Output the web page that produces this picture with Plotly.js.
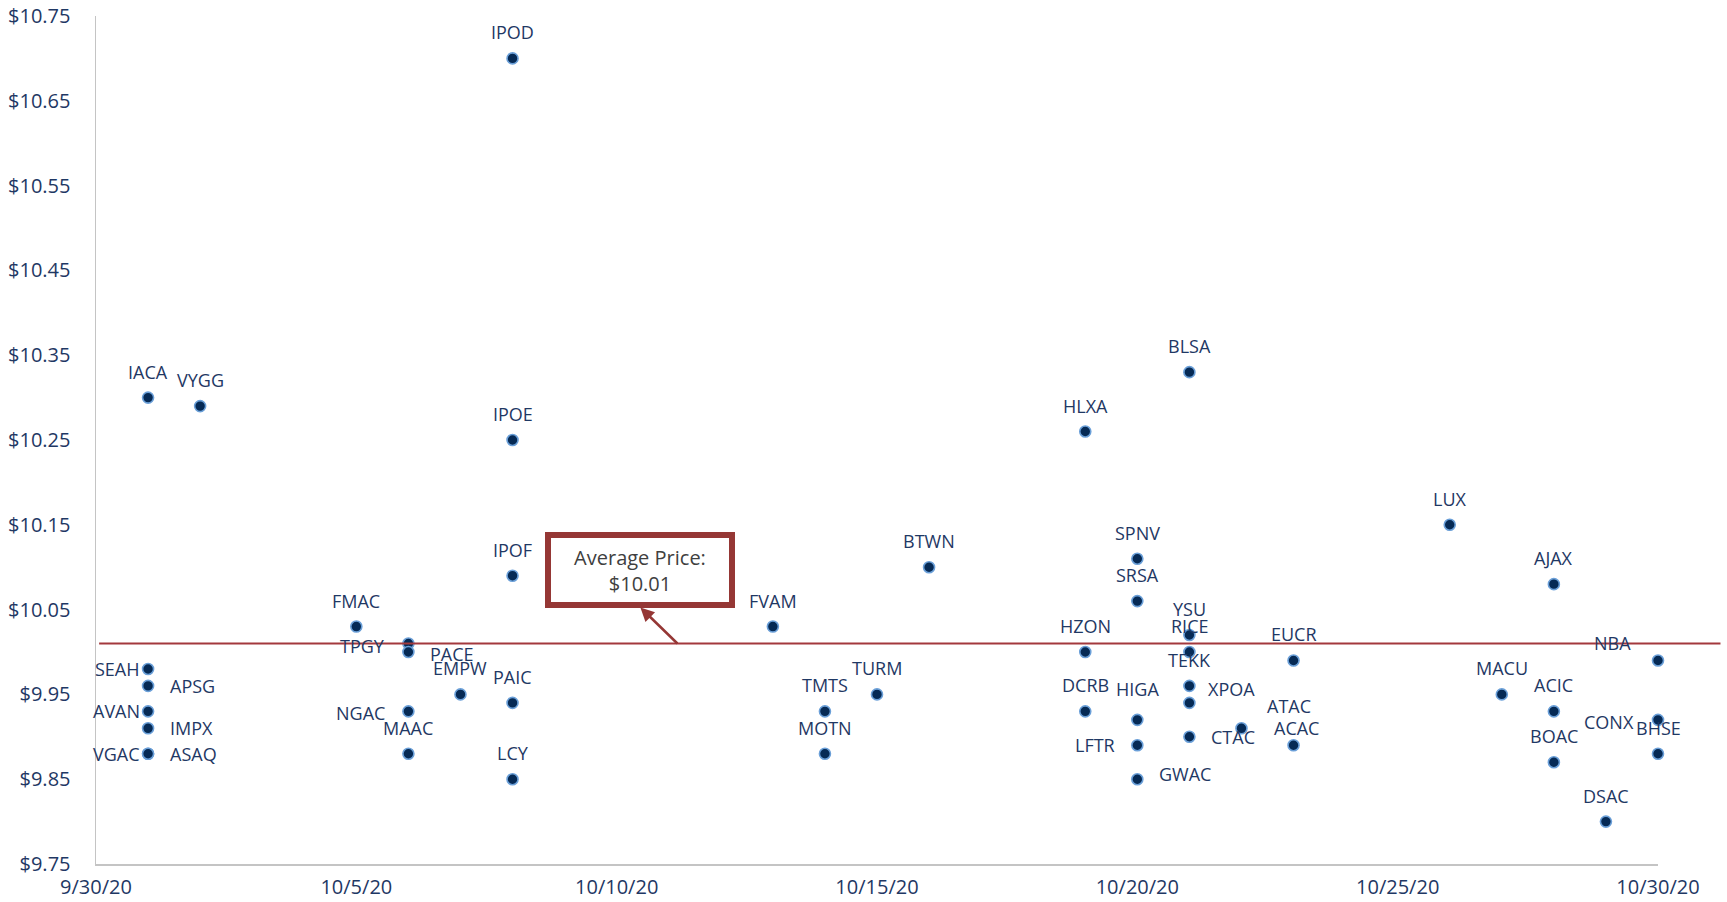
<!DOCTYPE html>
<html>
<head>
<meta charset="utf-8">
<script src="https://cdn.plot.ly/plotly-3.0.1.min.js"></script>
<style>
  html, body { margin: 0; padding: 0; background: #ffffff; }
  #chart { width: 1727px; height: 902px; }
</style>
</head>
<body>
<div id="chart"></div>
<script>
// ---- data ----
const tickers = [
  'IACA','SEAH','APSG','AVAN','IMPX','VGAC','ASAQ',
  'VYGG',
  'FMAC',
  'TPGY','PACE','NGAC','MAAC',
  'EMPW',
  'IPOD','IPOE','IPOF','PAIC','LCY',
  'FVAM',
  'TMTS','MOTN',
  'TURM',
  'BTWN',
  'HLXA','HZON','DCRB',
  'SPNV','SRSA','HIGA','LFTR','GWAC',
  'BLSA','YSU','RICE','TEKK','XPOA','CTAC',
  'ATAC',
  'EUCR','ACAC',
  'LUX',
  'MACU',
  'AJAX','ACIC','BOAC',
  'DSAC',
  'NBA','CONX','BHSE'
];
const dates = [
  '2020-10-01','2020-10-01','2020-10-01','2020-10-01','2020-10-01','2020-10-01','2020-10-01',
  '2020-10-02',
  '2020-10-05',
  '2020-10-06','2020-10-06','2020-10-06','2020-10-06',
  '2020-10-07',
  '2020-10-08','2020-10-08','2020-10-08','2020-10-08','2020-10-08',
  '2020-10-13',
  '2020-10-14','2020-10-14',
  '2020-10-15',
  '2020-10-16',
  '2020-10-19','2020-10-19','2020-10-19',
  '2020-10-20','2020-10-20','2020-10-20','2020-10-20','2020-10-20',
  '2020-10-21','2020-10-21','2020-10-21','2020-10-21','2020-10-21','2020-10-21',
  '2020-10-22',
  '2020-10-23','2020-10-23',
  '2020-10-26',
  '2020-10-27',
  '2020-10-28','2020-10-28','2020-10-28',
  '2020-10-29',
  '2020-10-30','2020-10-30','2020-10-30'
];
const prices = [
  10.30, 9.98, 9.96, 9.93, 9.91, 9.88, 9.88,
  10.29,
  10.03,
  10.01, 10.00, 9.93, 9.88,
  9.95,
  10.70, 10.25, 10.09, 9.94, 9.85,
  10.03,
  9.93, 9.88,
  9.95,
  10.10,
  10.26, 10.00, 9.93,
  10.11, 10.06, 9.92, 9.89, 9.85,
  10.33, 10.02, 10.00, 9.96, 9.94, 9.90,
  9.91,
  9.99, 9.89,
  10.15,
  9.95,
  10.08, 9.93, 9.87,
  9.80,
  9.99, 9.92, 9.88
];
const averagePrice = 10.01;
const averageLabel = 'Average Price:<br>$10.01';
const xRange = ['2020-09-30', '2020-10-30'];
const tickDates = ['2020-09-30','2020-10-05','2020-10-10','2020-10-15','2020-10-20','2020-10-25','2020-10-30'];
const tickText  = ['9/30/20','10/5/20','10/10/20','10/15/20','10/20/20','10/25/20','10/30/20'];
const yRange = [9.75, 10.75];

// ---- label placement (style only) ----
// T = above, L = left, R = right, C = centred with custom nudge
const labelSide = [
  'T','L','R','L','R','L','R',
  'T',
  'T',
  'L','R','L','T',
  'T',
  'T','T','T','T','T',
  'T',
  'T','T',
  'T',
  'T',
  'T','T','T',
  'T','T','T','L','R',
  'T','T','T','T','R','R',
  'C',
  'T','C',
  'T',
  'T',
  'T','T','T',
  'T',
  'L','L','T'
];
const labelNudge = {  // [xshift, yshift] overrides in px
  SEAH: [-6, 0], AVAN: [-6, 0], VGAC: [-6, 0],
  TPGY: [-21, -2], PACE: [20, -2], NGAC: [-21, -2],
  HIGA: [0, 31], GWAC: [20, 5],
  XPOA: [17, 14], ATAC: [48, 22], ACAC: [3, 17],
  NBA: [-25, 17], CONX: [-22, -2]
};

const navy = '#1f3864';
const labelFont = { family: 'Open Sans, sans-serif', size: 18, color: navy };
const tickFont = { family: 'Open Sans, sans-serif', size: 20, color: navy };

const labelAnns = tickers.map((t, i) => {
  const side = labelSide[i];
  let xanchor = 'center', xshift = 0, yshift = 0;
  if (side === 'T') { yshift = 26; }
  else if (side === 'L') { xanchor = 'right'; xshift = -20; }
  else if (side === 'R') { xanchor = 'left'; xshift = 20; }
  if (labelNudge[t]) { xshift = labelNudge[t][0]; yshift = labelNudge[t][1]; }
  return {
    x: dates[i], y: prices[i], xref: 'x', yref: 'y',
    text: t, showarrow: false,
    xanchor: xanchor, yanchor: 'middle',
    xshift: xshift, yshift: yshift,
    font: labelFont
  };
});

const avgAnn = {
  x: '2020-10-11 04:00', y: averagePrice, xref: 'x', yref: 'y',
  text: averageLabel,
  showarrow: true,
  ax: -37, ay: -36,
  xanchor: 'center', yanchor: 'bottom',
  arrowside: 'start',
  startarrowhead: 2, startarrowsize: 1.1,
  arrowhead: 2, arrowsize: 1.1,
  arrowwidth: 2.5, arrowcolor: '#953735',
  bordercolor: '#953735', borderwidth: 6, borderpad: 0,
  bgcolor: '#ffffff',
  width: 178, height: 64,
  align: 'center',
  font: { family: 'Open Sans, sans-serif', size: 20, color: '#404040' }
};

const trace = {
  type: 'scatter',
  mode: 'markers',
  x: dates,
  y: prices,
  text: tickers,
  cliponaxis: false,
  marker: {
    size: 11,
    color: '#062a55',
    line: { color: '#6a9fd8', width: 1.6 }
  },
  hoverinfo: 'text+y'
};

const layout = {
  width: 1727, height: 902,
  margin: { l: 96, r: 69, t: 16, b: 38 },
  paper_bgcolor: '#ffffff',
  plot_bgcolor: '#ffffff',
  showlegend: false,
  font: { family: 'Open Sans, sans-serif', color: navy },
  xaxis: {
    type: 'date',
    range: xRange,
    tickvals: tickDates,
    ticktext: tickText,
    showgrid: false, zeroline: false,
    showline: true, linecolor: '#c4c4c4', linewidth: 1.5,
    ticks: '', ticklabelstandoff: 4,
    tickfont: tickFont
  },
  yaxis: {
    range: yRange,
    tick0: 9.75, dtick: 0.1,
    tickprefix: '$', tickformat: '.2f',
    showgrid: false, zeroline: false,
    showline: true, linecolor: '#c4c4c4', linewidth: 1.5,
    ticks: '', ticklabelstandoff: 20,
    tickfont: tickFont
  },
  shapes: [{
    type: 'line', xref: 'paper', yref: 'y',
    x0: 0.002, x1: 1.04, y0: averagePrice, y1: averagePrice,
    line: { color: '#a3393d', width: 2 }
  }],
  annotations: labelAnns.concat([avgAnn])
};

Plotly.newPlot('chart', [trace], layout, { displayModeBar: false, staticPlot: true });
</script>
</body>
</html>
